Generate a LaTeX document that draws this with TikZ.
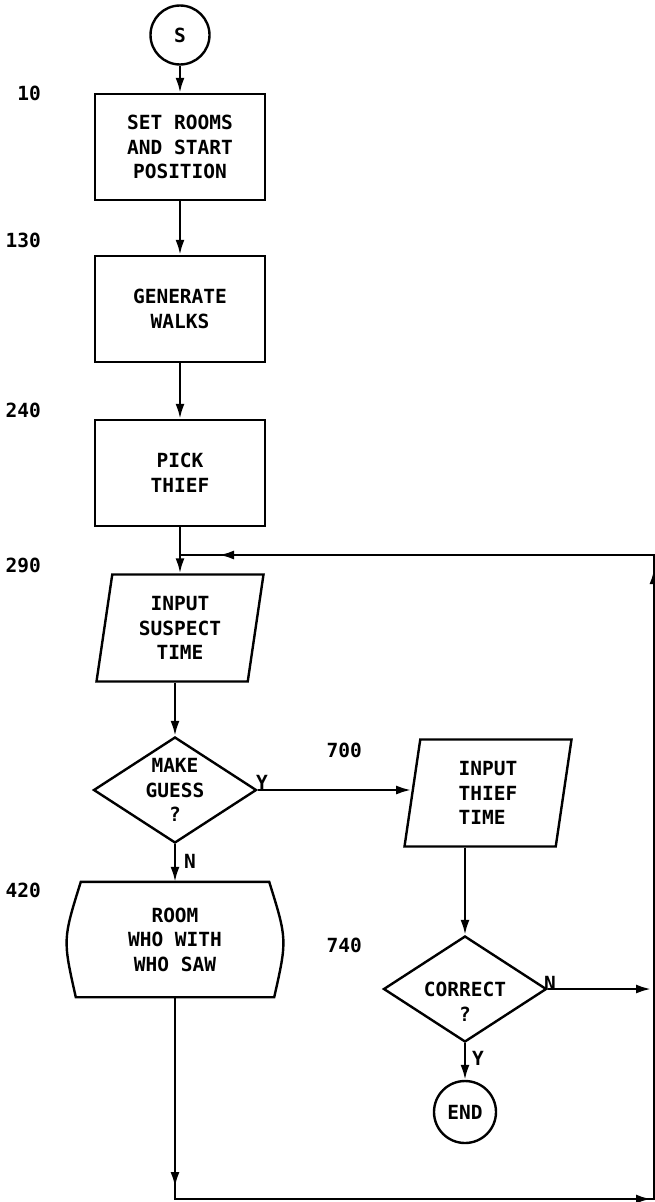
\documentclass[tikz,border=0pt]{standalone}
\usepackage{fontspec}
\newfontfamily\flowfont{DejaVu Sans Mono}
\usetikzlibrary{shapes.geometric,arrows.meta}
\begin{document}
\begin{tikzpicture}[x=1pt,y=-1pt,line width=2.4pt,
  every node/.style={font=\flowfont\bfseries\fontsize{19.5}{24.5}\selectfont,inner sep=0pt},
  box/.style={draw,rectangle,minimum width=170pt,minimum height=106pt,align=center},
  io/.style={draw,trapezium,trapezium left angle=76,trapezium right angle=104,trapezium stretches body,minimum width=167pt,minimum height=107pt,align=center},
  decision/.style={draw,diamond,aspect=1.54,minimum width=163pt,minimum height=106pt,align=center},
  term/.style={draw,circle,minimum size=59pt},
  num/.style={anchor=east},
  arr/.style={-{Latex[length=15pt,width=9pt]}}]
  \useasboundingbox (0,0) rectangle (655,1202);
  % left column
  \node[term] (start) at (180,35) {S};
  \node[box] (setrooms) at (180,147) {SET ROOMS\\AND START\\POSITION};
  \node[box] (walks) at (180,309) {GENERATE\\WALKS};
  \node[box] (pick) at (180,473) {PICK\\THIEF};
  \node[io] (suspect) at (180,628) {INPUT\\SUSPECT\\TIME};
  \node[decision] (guess) at (175,790) {MAKE\\GUESS\\?};
  \node[minimum width=196pt,minimum height=113pt,align=center] (room) at (175,939.5) {ROOM\\WHO WITH\\WHO SAW};
  \draw ([xshift=5pt]room.north west) -- ([xshift=-5pt]room.north east)
    .. controls ([xshift=13pt]room.east) .. (room.south east) -- (room.south west)
    .. controls ([xshift=-13pt]room.west) .. cycle;
  % right column
  \node[io,align=left] (thief) at (488,793) {INPUT\\THIEF\\TIME};
  \node[decision] (correct) at (465,989) {CORRECT};
  \node (correctq) at (465,1014) {?};
  \node[term,minimum size=62pt] (stop) at (465,1112) {END};
  % line numbers
  \node[num] (n10) at (42,93) {10};
  \node[num] (n130) at (42,240) {130};
  \node[num] (n240) at (42,410) {240};
  \node[num] (n290) at (42,565) {290};
  \node[num] (n420) at (42,890) {420};
  \node[num] (n700) at (363,750) {700};
  \node[num] (n740) at (363,945) {740};
  % branch labels
  \node (guessy) at (262,782) {Y};
  \node (guessn) at (190,861) {N};
  \node (correctn) at (550,983) {N};
  \node (correcty) at (478,1058) {Y};
  % loop corners
  \coordinate (bl) at (175,1199);
  \coordinate (br) at (654,1199);
  \coordinate (tr) at (654,555);
  \coordinate (tl) at (180,555);
  \coordinate (blarr) at (175,1187);
  \coordinate (brarr) at (651,1199);
  \coordinate (trarr) at (654,569);
  \coordinate (tlarr) at (219,555);
  % connectors
  \draw[arr] (start) -- (setrooms);
  \draw[arr] (setrooms) -- (walks);
  \draw[arr] (walks) -- (pick);
  \draw[arr] (pick) -- (suspect);
  \draw[arr] (guess.north |- suspect.south) -- (guess.north);
  \draw[arr] (guess) -- (room);
  \draw[arr] (guess.east) -- (guess.east -| thief.west);
  \draw[arr] (thief.south -| correct.north) -- (correct.north);
  \draw[arr] (correct) -- (stop);
  \draw[arr] (correct.east) -- (correct.east -| brarr);
  \draw (room.south) -- (bl) -- (br) -- (tr) -- (tl);
  \draw[arr] (room.south) -- (blarr);
  \draw[arr] (bl) -- (brarr);
  \draw[arr] (br) -- (trarr);
  \draw[arr] (tr) -- (tlarr);
\end{tikzpicture}
\end{document}
